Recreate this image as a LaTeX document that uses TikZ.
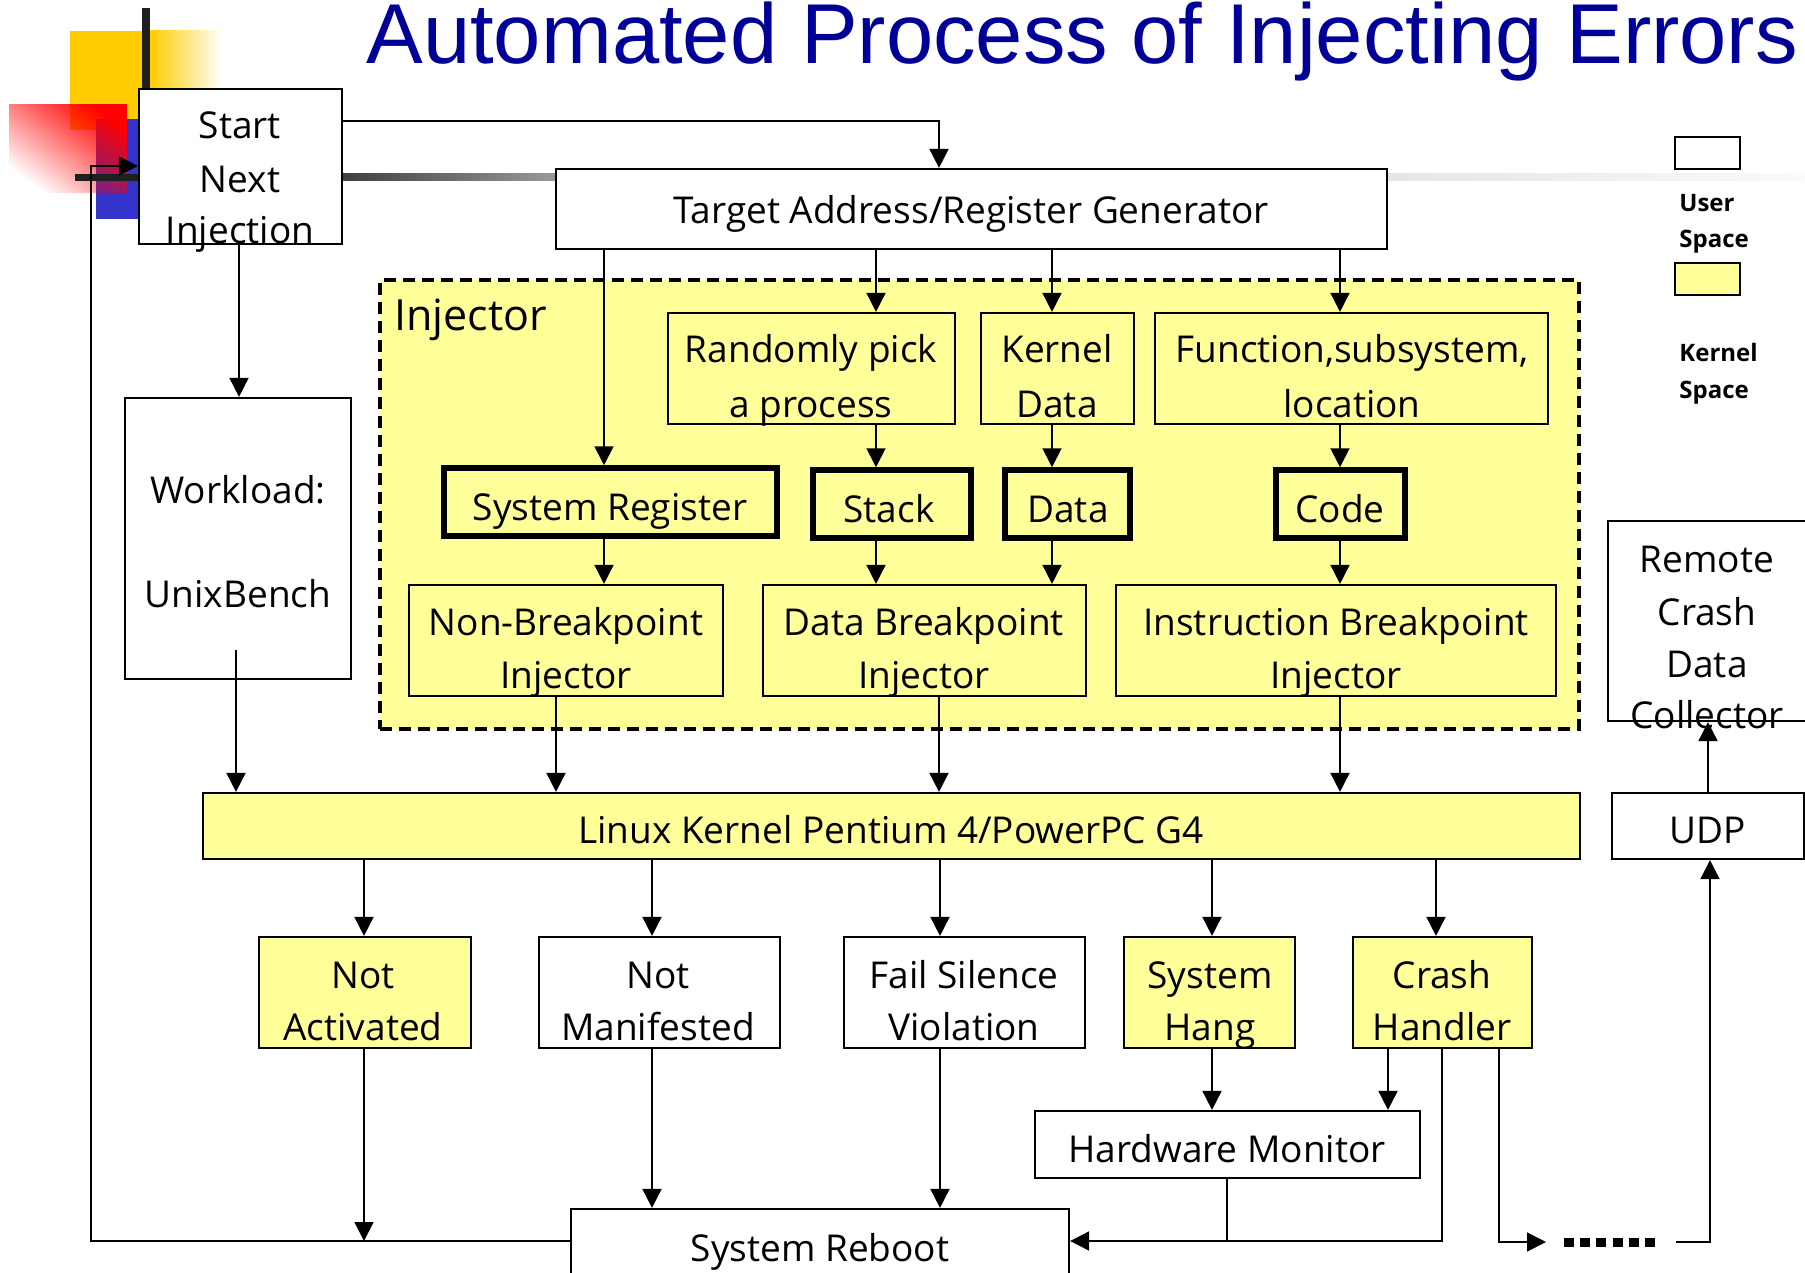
\documentclass[tikz,border=0pt]{standalone}
\usepackage{fontspec}
\setmainfont{Open Sans}
\newfontfamily\titlefont{Liberation Sans}
\usetikzlibrary{arrows.meta,fit,fadings}
\definecolor{ky}{RGB}{255,255,153}
\definecolor{ttl}{RGB}{0,0,153}
\definecolor{gold}{RGB}{255,204,0}
\definecolor{dblue}{RGB}{51,51,204}
\newcommand\myfont{\fontsize{18.5pt}{26pt}\selectfont}
\newcommand\legfont{\fontsize{12pt}{14pt}\selectfont\bfseries}
\tikzfading[name=rfade, left color=transparent!100, right color=transparent!0]
\tikzset{
  bx/.style={draw=black, line width=1.1pt, fill=white, inner sep=0pt},
  kbx/.style={bx, fill=ky},
  tbx/.style={draw=black, line width=2.75pt, fill=ky, inner sep=0pt},
  injbox/.style={draw=black, line width=1.75pt, dash pattern=on 6pt off 3.5pt, fill=ky, inner sep=0pt},
  t/.style={anchor=base, inner sep=0pt, font=\myfont},
  lg/.style={anchor=base west, inner sep=0pt, font=\legfont},
  arr/.style={line width=0.9pt, -{Triangle[length=9.5pt,width=9.5pt]}},
  ln/.style={line width=0.9pt},
  dotsline/.style={line width=4.5pt, dash pattern=on 5pt off 3.1pt},
}
\begin{document}
\begin{tikzpicture}[x=0.5pt,y=-0.5pt]
\useasboundingbox (0,0) rectangle (1805,1273);
\clip (0,0) rectangle (1805,1273);
\foreach \x in {91,236,239,364,556,604,652,876,939,940,1052,1212,1227,1340,1388,1436,1442,1499,1708,1710}
  \coordinate (v\x) at (\x,0);
\foreach \y in {121,166,1241}
  \coordinate (h\y) at (0,\y);

% ---- slide decorations
\fill[gold] (70,31) rectangle (150,130);
\shade[left color=gold, right color=white] (150,31) rectangle (222,130);
\fill[black!88] (142,8) rectangle (150,89);
\fill[dblue] (96,119) rectangle (170,219);
\fill[red, path fading=rfade, fading angle=45] (9,104) rectangle (127,193);
\fill[black!88] (75,174) rectangle (139,181);
\shade[left color=black!75, right color=black!40] (342,174) rectangle (556,181);
\shade[left color=black!10, right color=black!2] (1387,174) rectangle (1805,181);

% ---- title
\node[anchor=base west, inner sep=0pt, text=ttl,
      font=\titlefont\fontsize{42.5pt}{50pt}\selectfont] (title) at (366,64)
      {Automated Process of Injecting Errors};

% ---- top boxes
\node[bx, fit={(139,89) (342,244)}] (start) {};
\node[t] (start1) at (240,139) {Start};
\node[t] (start2) at (240,193) {Next};
\node[t] (start3) at (240,244) {Injection};

\node[bx, fit={(556,169) (1387,249)}] (tgt) {};
\node[t] (tgt1) at (971,224) {Target Address/Register Generator};

\node[bx, fit={(125,398) (351,679)}] (wl) {};
\node[t] (wl1) at (238,503) {Workload:};
\node[t] (wl2) at (238,607) {UnixBench};

% ---- injector
\node[injbox, fit={(380,280) (1579,729)}] (inj) {};
\node[anchor=base west, inner sep=0pt, font=\fontsize{21.5pt}{26pt}\selectfont] (injl) at (394,330) {Injector};

\node[kbx, fit={(668,313) (955,424)}] (rnd) {};
\node[t] (rnd1) at (811,363) {Randomly pick};
\node[t] (rnd2) at (811,417) {a process};
\node[kbx, fit={(981,313) (1134,424)}] (kd) {};
\node[t] (kd1) at (1057,363) {Kernel};
\node[t] (kd2) at (1057,417) {Data};
\node[kbx, fit={(1155,313) (1548,424)}] (fn) {};
\node[t] (fn1) at (1352,363) {Function,subsystem,};
\node[t] (fn2) at (1352,417) {location};

\node[tbx, fit={(444,468) (777,536)}] (sr) {};
\node[t] (sr1) at (610,520) {System Register};
\node[tbx, fit={(813,470) (971,538)}] (stk) {};
\node[t] (stk1) at (889,522) {Stack};
\node[tbx, fit={(1005,470) (1130,538)}] (dat) {};
\node[t] (dat1) at (1068,522) {Data};
\node[tbx, fit={(1276,470) (1405,538)}] (code) {};
\node[t] (code1) at (1340,522) {Code};

\node[kbx, fit={(409,585) (723,696)}] (nbp) {};
\node[t] (nbp1) at (566,635) {Non-Breakpoint};
\node[t] (nbp2) at (566,688) {Injector};
\node[kbx, fit={(763,585) (1086,696)}] (dbp) {};
\node[t] (dbp1) at (924,635) {Data Breakpoint};
\node[t] (dbp2) at (924,688) {Injector};
\node[kbx, fit={(1116,585) (1556,696)}] (ibp) {};
\node[t] (ibp1) at (1336,635) {Instruction Breakpoint};
\node[t] (ibp2) at (1336,688) {Injector};

% ---- kernel
\node[kbx, fit={(203,793) (1580,859)}] (lin) {};
\node[t] (lin1) at (891,843) {Linux Kernel Pentium 4/PowerPC G4};

% ---- outcomes
\node[kbx, fit={(259,937) (471,1048)}] (na) {};
\node[t] (na1) at (363,988) {Not};
\node[t] (na2) at (363,1040) {Activated};
\node[bx, fit={(539,937) (780,1048)}] (nm) {};
\node[t] (nm1) at (658,988) {Not};
\node[t] (nm2) at (658,1040) {Manifested};
\node[bx, fit={(844,937) (1085,1048)}] (fs) {};
\node[t] (fs1) at (964,988) {Fail Silence};
\node[t] (fs2) at (964,1040) {Violation};
\node[kbx, fit={(1124,937) (1295,1048)}] (sh) {};
\node[t] (sh1) at (1210,988) {System};
\node[t] (sh2) at (1210,1040) {Hang};
\node[kbx, fit={(1353,937) (1532,1048)}] (cr) {};
\node[t] (cr1) at (1442,988) {Crash};
\node[t] (cr2) at (1442,1040) {Handler};

\node[bx, fit={(1035,1111) (1420,1178)}] (hw) {};
\node[t] (hw1) at (1227,1162) {Hardware Monitor};
\node[bx, fit={(571,1209) (1069,1300)}] (rb) {};
\node[t] (rb1) at (820,1261) {System Reboot};

% ---- remote side
\node[bx, fit={(1608,521) (1840,721)}] (col) {};
\node[t] (col1) at (1707,572) {Remote};
\node[t] (col2) at (1707,625) {Crash};
\node[t] (col3) at (1707,677) {Data};
\node[t] (col4) at (1707,728) {Collector};
\node[bx, fit={(1612,793) (1804,859)}] (udp) {};
\node[t] (udp1) at (1708,843) {UDP};

% ---- legend
\node[bx, fit={(1675,137) (1740,169)}] (legu) {};
\node[lg] (legu1) at (1679,212) {User};
\node[lg] (legu2) at (1679,248) {Space};
\node[kbx, fit={(1675,263) (1740,295)}] (legk) {};
\node[lg] (legk1) at (1679,362) {Kernel};
\node[lg] (legk2) at (1679,398) {Space};

% ---- connectors
\draw[arr] (start.east |- h121) -| (tgt.north -| v939);
\draw[arr] (start.south -| v239) -- (wl.north -| v239);
\coordinate (wlo) at (236,650);
\draw[arr] (wlo) -- (lin.north -| wlo);

\draw[arr] (tgt.south -| v604) -- (sr.north -| v604);
\draw[arr] (tgt.south -| v876) -- (rnd.north -| v876);
\draw[arr] (tgt.south -| v1052) -- (kd.north -| v1052);
\draw[arr] (tgt.south -| v1340) -- (fn.north -| v1340);

\draw[arr] (rnd.south -| v876) -- (stk.north -| v876);
\draw[arr] (kd.south -| v1052) -- (dat.north -| v1052);
\draw[arr] (fn.south -| v1340) -- (code.north -| v1340);

\draw[arr] (sr.south -| v604) -- (nbp.north -| v604);
\draw[arr] (stk.south -| v876) -- (dbp.north -| v876);
\draw[arr] (dat.south -| v1052) -- (dbp.north -| v1052);
\draw[arr] (code.south -| v1340) -- (ibp.north -| v1340);

\draw[arr] (nbp.south -| v556) -- (lin.north -| v556);
\draw[arr] (dbp.south -| v939) -- (lin.north -| v939);
\draw[arr] (ibp.south -| v1340) -- (lin.north -| v1340);

\draw[arr] (lin.south -| v364) -- (na.north -| v364);
\draw[arr] (lin.south -| v652) -- (nm.north -| v652);
\draw[arr] (lin.south -| v940) -- (fs.north -| v940);
\draw[arr] (lin.south -| v1212) -- (sh.north -| v1212);
\draw[arr] (lin.south -| v1436) -- (cr.north -| v1436);

\draw[arr] (sh.south -| v1212) -- (hw.north -| v1212);
\draw[arr] (cr.south -| v1388) -- (hw.north -| v1388);
\draw[arr] (nm.south -| v652) -- (rb.north -| v652);
\draw[arr] (fs.south -| v940) -- (rb.north -| v940);

\coordinate (naend) at (364,1241);
\draw[arr] (na.south -| v364) -- (naend);
\draw[arr] (rb.west |- h1241) -| (v91 |- h166) -- (start.west |- h166);
\draw[arr] (cr.south -| v1442) |- (rb.east |- h1241);
\draw[ln] (hw.south -| v1227) -- (v1227 |- h1241);

\coordinate (dotA) at (1546,1242);
\coordinate (dotB) at (1564,1242);
\coordinate (dotC) at (1657,1242);
\coordinate (dotD) at (1676,1242);
\draw[arr] (cr.south -| v1499) |- (dotA);
\draw[dotsline] (dotB) -- (dotC);
\draw[arr] (dotD) -| (udp.south -| v1710);
\draw[arr] (udp.north -| v1708) -- (col.south -| v1708);
\end{tikzpicture}
\end{document}
